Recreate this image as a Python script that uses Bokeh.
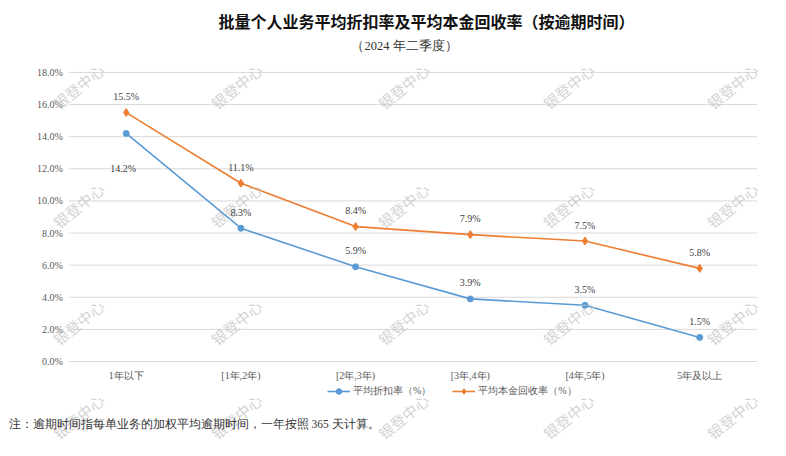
from bokeh.plotting import figure
from bokeh.models import (Range1d, ColumnDataSource, LabelSet, Label,
                          Legend, LegendItem)
from bokeh.core.properties import value
from bokeh.embed import file_html
from bokeh.resources import INLINE

# ---------------- data ----------------
categories = ["1年以下", "[1年,2年)", "[2年,3年)", "[3年,4年)", "[4年,5年)", "5年及以上"]
discount_rate = [14.2, 8.3, 5.9, 3.9, 3.5, 1.5]
recovery_rate = [15.5, 11.1, 8.4, 7.9, 7.5, 5.8]
y_ticks = [0, 2, 4, 6, 8, 10, 12, 14, 16, 18]
series_names = ["平均折扣率（%）", "平均本金回收率（%）"]
title_text = "批量个人业务平均折扣率及平均本金回收率（按逾期时间）"
subtitle_text = "（2024 年二季度）"
note_text = "注：逾期时间指每单业务的加权平均逾期时间，一年按照 365 天计算。"
watermark_text = "银登中心"

# ---------------- styles ----------------
BLUE = "#5b9bd5"
ORANGE = "#ed7d31"
SERIF = "Liberation Serif"
CJK = "Noto Sans CJK SC"

W, H = 786, 456
# view window (axis limits) chosen so the plotting area sits where the reference has it
X_START, X_END = -1.096, 5.757
Y_START, Y_END = -5.915, 22.48

p = figure(width=W, height=H,
           x_range=Range1d(X_START, X_END), y_range=Range1d(Y_START, Y_END),
           output_backend="svg", toolbar_location=None,
           min_border=0, x_axis_location=None, y_axis_location=None)
p.outline_line_color = None
p.grid.grid_line_color = None
p.background_fill_color = "white"
p.border_fill_color = "white"

n = len(categories)
xs = list(range(n))
band_left, band_right = -0.5, n - 0.5

# horizontal grid lines at y ticks
p.segment(x0=[band_left] * len(y_ticks), y0=y_ticks,
          x1=[band_right] * len(y_ticks), y1=y_ticks,
          line_color="#d9d9d9", line_width=1)

# y tick labels
p.text(x=[band_left] * len(y_ticks), y=y_ticks,
       text=[f"{t:.1f}%" for t in y_ticks],
       x_offset=-6, text_align="right", text_baseline="middle",
       text_font=value(SERIF), text_font_size="10px", text_color="#595959")

# x category labels
p.text(x=xs, y=[0] * n, text=categories, y_offset=14,
       text_align="center", text_baseline="middle",
       text_font=value(SERIF), text_font_size="10px", text_color="#595959")

# watermarks (decorative)
wm_cols = [78, 236, 403, 568, 732]
wm_rows = [86, 205, 322, 416]
for wy in wm_rows:
    for wx in wm_cols:
        p.add_layout(Label(x=wx, y=H - wy, x_units="screen", y_units="screen",
                           text=watermark_text, angle=0.68,
                           text_font=CJK, text_font_size="15px",
                           text_color="#c4c4c4", text_alpha=0.75,
                           text_align="center", text_baseline="middle"))

# series
src_b = ColumnDataSource(dict(x=xs, val=discount_rate,
                              lbl=[f"{v:.1f}%" for v in discount_rate]))
src_o = ColumnDataSource(dict(x=xs, val=recovery_rate,
                              lbl=[f"{v:.1f}%" for v in recovery_rate]))

lb = p.line("x", "val", source=src_b, color=BLUE, line_width=1.6)
sb = p.scatter("x", "val", source=src_b, marker="circle", size=6,
               fill_color=BLUE, line_color=BLUE)
lo = p.line("x", "val", source=src_o, color=ORANGE, line_width=1.6)
so = p.scatter("x", "val", source=src_o, marker="diamond", size=8,
               fill_color=ORANGE, line_color=ORANGE)

src_b.data["yoff"] = [-35] + [16] * (n - 1)
src_b.data["xoff"] = [-3] + [0] * (n - 1)
p.add_layout(LabelSet(x="x", y="val", text="lbl", source=src_b,
                      x_offset="xoff", y_offset="yoff",
                      text_font=SERIF, text_font_size="10px",
                      text_color="#404040", text_align="center",
                      text_baseline="middle"))
p.add_layout(LabelSet(x="x", y="val", text="lbl", source=src_o, y_offset=16,
                      text_font=SERIF, text_font_size="10px",
                      text_color="#404040", text_align="center",
                      text_baseline="middle"))

legend = Legend(items=[LegendItem(label=series_names[0], renderers=[lb, sb]),
                       LegendItem(label=series_names[1], renderers=[lo, so])],
                orientation="horizontal", location=(327, H - 398))
legend.label_text_font = SERIF
legend.label_text_font_size = "10px"
legend.label_text_color = "#595959"
legend.glyph_width = 23
legend.glyph_height = 14
legend.label_standoff = 3
legend.spacing = 21
legend.padding = 0
legend.margin = 0
legend.border_line_color = None
legend.background_fill_alpha = 0
p.add_layout(legend, "center")

# title, subtitle, note
p.add_layout(Label(x=426, y=H - 20, x_units="screen", y_units="screen",
                   text=title_text, text_font=CJK, text_font_style="bold",
                   text_font_size="16px", text_color="#111111",
                   text_align="center", text_baseline="middle"))
p.add_layout(Label(x=404, y=H - 45, x_units="screen", y_units="screen",
                   text=subtitle_text, text_font=SERIF,
                   text_font_size="12.5px", text_color="#333333",
                   text_align="center", text_baseline="middle"))
p.add_layout(Label(x=8, y=H - 423, x_units="screen", y_units="screen",
                   text=note_text, text_font=SERIF,
                   text_font_size="11.5px", text_color="#333333",
                   text_align="left", text_baseline="middle"))

open("out.html", "w").write(file_html(p, INLINE))
